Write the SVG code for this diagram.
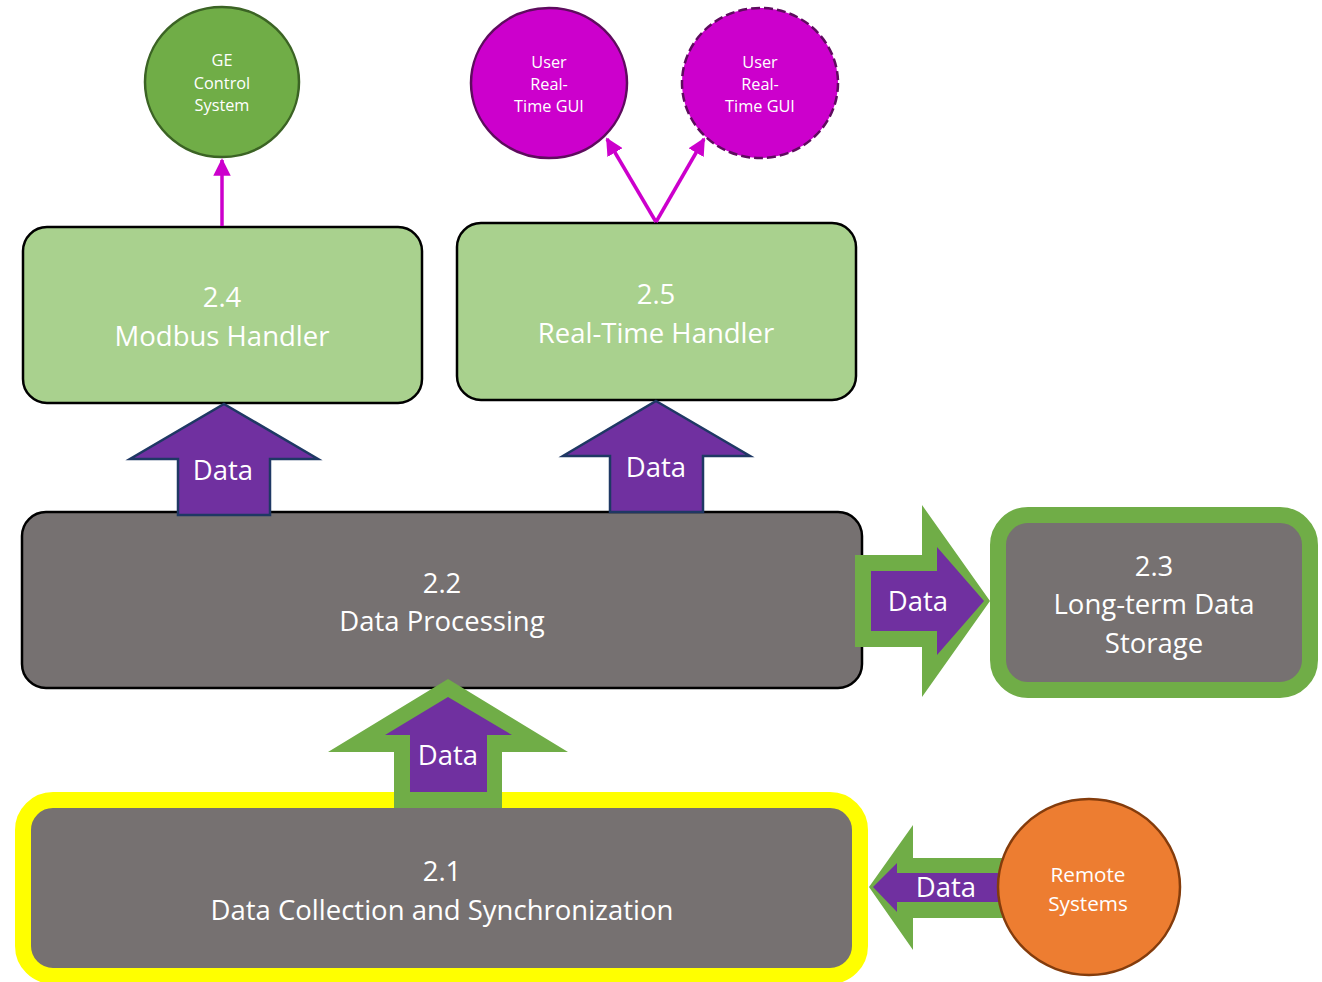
<svg xmlns="http://www.w3.org/2000/svg" width="1322" height="982" viewBox="0 0 1322 982">
  <style>
    text { font-family: "Open Sans", "Noto Sans", "Liberation Sans", sans-serif; fill: #ffffff; text-anchor: middle; dominant-baseline: central; }
    .big { font-size: 27.5px; }
    .small { font-size: 16.3px; }
    .mid { font-size: 20.7px; }
    .lg { fill: #A9D18E; stroke: #000000; stroke-width: 2.5; }
    .gray { fill: #767171; stroke: #000000; stroke-width: 2.5; }
    .purple { fill: #7030A0; }
    .navy { stroke: #1F3864; stroke-width: 2.5; stroke-linejoin: miter; }
    .green { fill: #70AD47; }
    .mag { stroke: #CC00CC; stroke-width: 3.5; fill: none; }
  </style>
  <defs>
    <marker id="mh" viewBox="0 0 10 10" refX="9" refY="5" markerWidth="5" markerHeight="5" orient="auto" markerUnits="strokeWidth">
      <path d="M0,0 L10,5 L0,10 z" fill="#CC00CC"/>
    </marker>
  </defs>

  <g id="ge">
    <ellipse cx="222" cy="82" rx="77" ry="75" fill="#70AD47" stroke="#3B6324" stroke-width="2.5"/>
    <text class="small" x="222" y="60">GE</text>
    <text class="small" x="222" y="83">Control</text>
    <text class="small" x="222" y="105">System</text>
  </g>

  <g id="gui1">
    <ellipse cx="549" cy="83" rx="78" ry="75" fill="#CC00CC" stroke="#5E0C5E" stroke-width="2.5"/>
    <text class="small" x="549" y="62">User</text>
    <text class="small" x="549" y="84">Real-</text>
    <text class="small" x="549" y="106">Time GUI</text>
  </g>

  <g id="gui2">
    <ellipse cx="760" cy="83" rx="78" ry="75" fill="#CC00CC" stroke="#5E0C5E" stroke-width="2.5" stroke-dasharray="9,4"/>
    <text class="small" x="760" y="62">User</text>
    <text class="small" x="760" y="84">Real-</text>
    <text class="small" x="760" y="106">Time GUI</text>
  </g>

  <g id="n24">
    <rect class="lg" x="23" y="227" width="399" height="176" rx="24"/>
    <text class="big" x="222" y="296">2.4</text>
    <text class="big" x="222" y="335">Modbus Handler</text>
  </g>

  <g id="n25">
    <rect class="lg" x="457" y="223" width="399" height="177" rx="24"/>
    <text class="big" x="656" y="293">2.5</text>
    <text class="big" x="656" y="332">Real-Time Handler</text>
  </g>

  <g id="n22">
    <rect class="gray" x="22" y="512" width="840" height="176" rx="24"/>
    <text class="big" x="442" y="582">2.2</text>
    <text class="big" x="442" y="620">Data Processing</text>
  </g>

  <g id="n23">
    <rect x="998" y="515" width="312" height="175" rx="30" fill="#767171" stroke="#70AD47" stroke-width="16"/>
    <text class="big" x="1154" y="565">2.3</text>
    <text class="big" x="1154" y="603">Long-term Data</text>
    <text class="big" x="1154" y="642">Storage</text>
  </g>

  <g id="n21">
    <rect x="23" y="800" width="837" height="176" rx="30" fill="#767171" stroke="#FFFF00" stroke-width="16"/>
    <text class="big" x="442" y="870">2.1</text>
    <text class="big" x="442" y="909">Data Collection and Synchronization</text>
  </g>

  <g id="connectors">
    <line class="mag" x1="222" y1="226" x2="222" y2="160" marker-end="url(#mh)"/>
    <line class="mag" x1="656" y1="222" x2="607" y2="139" marker-end="url(#mh)"/>
    <line class="mag" x1="656" y1="222" x2="704" y2="139" marker-end="url(#mh)"/>

    <!-- purple block arrows into the handlers -->
    <g id="arrow-modbus">
      <polygon class="purple navy" points="224,404 318,459 270,459 270,515 178,515 178,459 130,459"/>
      <text class="big" x="223" y="469">Data</text>
    </g>
    <g id="arrow-realtime">
      <polygon class="purple navy" points="656,401 750,456 703,456 703,512 610,512 610,456 563,456"/>
      <text class="big" x="656" y="466">Data</text>
    </g>

    <!-- green-framed block arrows -->
    <g id="arrow-collect">
      <polygon class="green" points="448,679 568,752 502,752 502,808 394,808 394,752 328,752"/>
      <polygon class="purple" points="448,697 512,735 487,735 487,792 410,792 410,735 385,735"/>
      <text class="big" x="448" y="754">Data</text>
    </g>
    <g id="arrow-storage">
      <polygon class="green" points="990,601 922,697 922,647 855,647 855,555 922,555 922,505"/>
      <polygon class="purple" points="984,601 937,655 937,631 871,631 871,571 937,571 937,547"/>
      <text class="big" x="918" y="600">Data</text>
    </g>
    <g id="arrow-remote">
      <polygon class="green" points="869,887 913,825 913,858 1010,858 1010,918 913,918 913,950"/>
      <polygon class="purple" points="873,887 897,863 897,873 1005,873 1005,902 897,902 897,912"/>
      <text class="big" x="946" y="886">Data</text>
    </g>
  </g>

  <g id="remote">
    <ellipse cx="1089" cy="887" rx="91" ry="88" fill="#ED7D31" stroke="#843C0C" stroke-width="2.5"/>
    <text class="mid" x="1088" y="874">Remote</text>
    <text class="mid" x="1088" y="903">Systems</text>
  </g>
</svg>
